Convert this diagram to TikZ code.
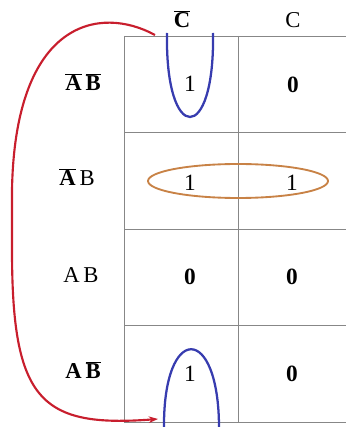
\documentclass[tikz,border=0pt]{standalone}
\usepackage{fontspec}
\setmainfont{Liberation Serif}
\usetikzlibrary{arrows.meta}
\definecolor{gridgray}{RGB}{135,135,135}
\definecolor{loopblue}{RGB}{55,60,175}
\definecolor{looporange}{RGB}{200,130,70}
\definecolor{arcred}{RGB}{200,30,45}
\newcommand{\ovl}[1]{$\overline{\mbox{#1}}$}
\tikzset{
  gridline/.style={draw=gridgray, line width=0.7pt},
  lbl/.style={font=\fontsize{17}{20}\selectfont, inner sep=0pt, anchor=center},
  val/.style={font=\fontsize{17.5}{20}\selectfont, inner sep=0pt, anchor=center},
  blueloop/.style={draw=loopblue, line width=1.7pt},
  orangeloop/.style={draw=looporange, line width=1.4pt},
  redarc/.style={draw=arcred, line width=1.6pt, -{Stealth[length=7pt,width=5pt]}}
}
\begin{document}
\begin{tikzpicture}[x=0.75pt,y=-0.75pt]
\useasboundingbox (0,0) rectangle (346,427);
% grid
\draw[gridline] (124,36) -- (346,36);
\draw[gridline] (124,132) -- (346,132);
\draw[gridline] (124,229) -- (346,229);
\draw[gridline] (124,325) -- (346,325);
\draw[gridline] (124,422) -- (346,422);
\draw[gridline] (124,36) -- (124,422);
\draw[gridline] (238,36) -- (238,422);
% column headers
\node[lbl] (cbar) at (182,19) {\ovl{\bfseries C}};
\node[lbl] (c) at (293,20) {C};
% row headers
\node[lbl] (r1) at (83,82) {\ovl{\bfseries A}\,\ovl{\bfseries B}};
\node[lbl] (r2) at (77,177) {\ovl{\bfseries A}\,B};
\node[lbl] (r3) at (81,275) {A\,B};
\node[lbl] (r4) at (83,370) {\bfseries A\,\ovl{\bfseries B}};
% values
\node[val] (v11) at (190,84) {1};
\node[val] (v12) at (293,85) {\bfseries 0};
\node[val] (v21) at (190,183) {1};
\node[val] (v22) at (292,183) {1};
\node[val] (v31) at (190,277) {\bfseries 0};
\node[val] (v32) at (292,277) {\bfseries 0};
\node[val] (v41) at (190,374) {1};
\node[val] (v42) at (292,374) {\bfseries 0};
% loops
\draw[blueloop] (167,33) .. controls (165,145) and (215,145) .. (213,33);
\draw[blueloop] (164,428) .. controls (163,323) and (219,323) .. (219,428);
\draw[orangeloop] (238,181) ellipse [x radius=90, y radius=17];
% wrap-around arc
\coordinate (arcstart) at (155,35);
\coordinate (arcmid) at (12,190);
\coordinate (arcend) at (158,419);
\draw[redarc] (arcstart) .. controls (100,5) and (15,20) .. (arcmid) -- (12,250) .. controls (12,400) and (40,428) .. (arcend);
\end{tikzpicture}
\end{document}
